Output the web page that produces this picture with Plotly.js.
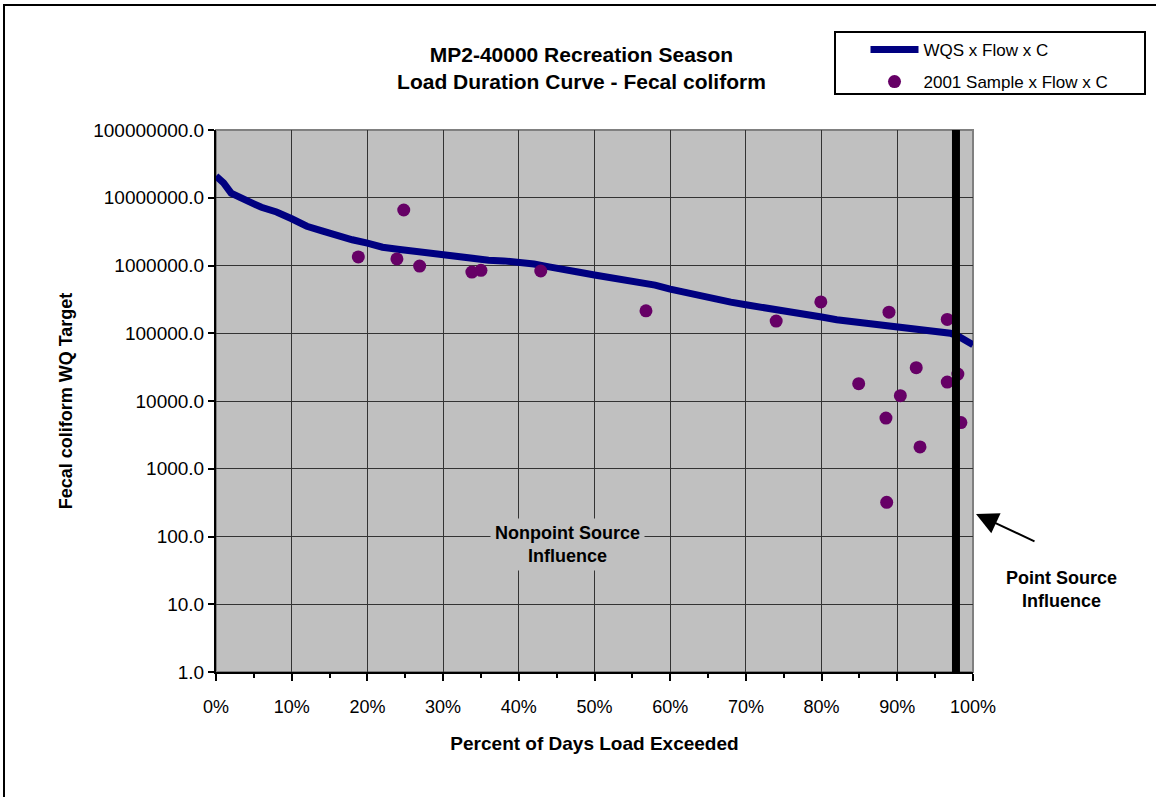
<!DOCTYPE html>
<html>
<head>
<meta charset="utf-8">
<script src="https://cdn.plot.ly/plotly-3.0.1.min.js"></script>
<style>html,body{margin:0;padding:0;background:#fff;}#chart{width:1156px;height:797px;}</style>
</head>
<body>
<div id="chart"></div>
<script>
// Load duration curve (WQS x Flow x C)
var curvePct = [0,1,2,3,4,5,6,8,10,12,14,16,18,20,22,24,26,28,30,32,34,36,38,40,42,44,46,48,50,52,54,56,58,60,62,64,66,68,70,72,74,76,78,80,82,84,86,88,90,92,94,96,97,98,99,100];
var curveLoad = [20900000,16600000,11700000,10200000,9330000,8130000,7240000,6170000,4900000,3800000,3240000,2750000,2400000,2140000,1860000,1740000,1620000,1510000,1480000,1380000,1290000,1200000,1170000,1120000,1050000,955000,891000,794000,724000,661000,617000,575000,513000,447000,398000,347000,309000,288000,263000,245000,224000,204000,191000,174000,158000,148000,138000,132000,123000,120000,112000,105000,100000,91200,79400,67600];
// 2001 samples (Sample x Flow x C)
var samplePct = [18.8,24.8,23.9,26.9,33.8,35.0,42.9,56.8,74.0,79.9,88.9,96.6,92.5,84.9,96.6,98.0,90.4,88.5,98.4,93.0,88.6];
var sampleLoad = [1340000,6600000,1250000,980000,800000,850000,830000,214000,151000,290000,205000,160000,31000,18000,19000,25000,12000,5600,4800,2100,320];
// Point source boundary
var pointSourcePct = [97.75, 97.75];
var pointSourceLoad = [1, 100000000];
// Tick labels
var xTickVals = [0,10,20,30,40,50,60,70,80,90,100];
var xTickText = ["0%","10%","20%","30%","40%","50%","60%","70%","80%","90%","100%"];
var yTickVals = [1,10,100,1000,10000,100000,1000000,10000000,100000000];
var yTickText = ["1.0","10.0","100.0","1000.0","10000.0","100000.0","1000000.0","10000000.0","100000000.0"];

var FONT = "Liberation Sans, Arial, sans-serif";

var traces = [
  {
    x: curvePct, y: curveLoad, type: "scatter", mode: "lines",
    name: "WQS x Flow x C", legendgroup: "a",
    line: {color: "#000080", width: 7}
  },
  {
    x: samplePct, y: sampleLoad, type: "scatter", mode: "markers",
    name: "2001 Sample x Flow x C", legendgroup: "b",
    marker: {color: "#660066", size: 13}
  },
  {
    x: pointSourcePct, y: pointSourceLoad, type: "scatter", mode: "lines",
    showlegend: false, hoverinfo: "skip",
    line: {color: "#000000", width: 8}
  }
];

var layout = {
  width: 1156, height: 797,
  margin: {l: 216, r: 183, t: 130, b: 125},
  paper_bgcolor: "#ffffff",
  plot_bgcolor: "#c0c0c0",
  font: {family: FONT, color: "#000", size: 18},
  title: {
    text: "<b>MP2-40000 Recreation Season<br>Load Duration Curve - Fecal coliform</b>",
    font: {family: FONT, size: 21, color: "#000"},
    x: 0.503, xanchor: "center", y: 0.922, yanchor: "top"
  },
  xaxis: {
    range: [0, 100], fixedrange: true,
    tickmode: "array", tickvals: xTickVals, ticktext: xTickText,
    ticks: "outside", ticklen: 7, tickwidth: 2, tickcolor: "#000",
    minor: {dtick: 5, ticks: "outside", ticklen: 4, tickwidth: 2, tickcolor: "#000", showgrid: false},
    showgrid: true, gridcolor: "#333333", gridwidth: 1,
    showline: true, linecolor: "#000", linewidth: 2,
    zeroline: false,
    tickfont: {family: FONT, size: 18},
    ticklabelstandoff: 10,
    title: {text: "<b>Percent of Days Load Exceeded</b>", font: {family: FONT, size: 19}, standoff: 21}
  },
  yaxis: {
    type: "log", range: [0, 8], fixedrange: true,
    tickmode: "array", tickvals: yTickVals, ticktext: yTickText,
    ticks: "outside", ticklen: 6, tickwidth: 2, tickcolor: "#000",
    showgrid: true, gridcolor: "#333333", gridwidth: 1,
    showline: true, linecolor: "#000", linewidth: 2,
    zeroline: false,
    tickfont: {family: FONT, size: 19},
    title: {text: "<b>Fecal coliform WQ Target</b>", font: {family: FONT, size: 18}, standoff: 16}
  },
  showlegend: true,
  legend: {
    x: 0.858, xanchor: "left", y: 1.181, yanchor: "top",
    bgcolor: "rgba(0,0,0,0)", borderwidth: 0,
    font: {family: FONT, size: 17, color: "#000"},
    itemwidth: 48, tracegroupgap: 7, traceorder: "grouped"
  },
  shapes: [
    // outer chart frame
    {type: "rect", xref: "paper", yref: "paper",
     x0: (4 - 216) / 757, x1: (1170 - 216) / 757, y0: (672 - 810) / 542, y1: (672 - 5) / 542,
     line: {color: "#000", width: 2}, fillcolor: "rgba(0,0,0,0)", layer: "below"},
    // plot area border (top/right grey)
    {type: "rect", xref: "paper", yref: "paper", x0: 0, x1: 1, y0: 0, y1: 1,
     line: {color: "#808080", width: 2}, fillcolor: "rgba(0,0,0,0)", layer: "below"},
    // legend box
    {type: "rect", xref: "paper", yref: "paper",
     x0: (835 - 216) / 757, x1: (1145 - 216) / 757, y0: (672 - 94) / 542, y1: (672 - 32) / 542,
     line: {color: "#000", width: 2}, fillcolor: "#ffffff", layer: "below"}
  ],
  annotations: [
    {xref: "paper", yref: "paper", x: (567 - 216) / 757, y: (672 - 544) / 542,
     text: "<b>Nonpoint Source<br>Influence</b>", showarrow: false,
     font: {family: FONT, size: 18, color: "#000"}, bgcolor: "#c0c0c0", borderpad: 4,
     xanchor: "center", yanchor: "middle"},
    {xref: "paper", yref: "paper", x: (1061 - 216) / 757, y: (672 - 589) / 542,
     text: "<b>Point Source<br>Influence</b>", showarrow: false,
     font: {family: FONT, size: 18, color: "#000"},
     xanchor: "center", yanchor: "middle"},
    {xref: "paper", yref: "paper", x: (976 - 216) / 757, y: (672 - 514) / 542,
     text: "", showarrow: true, arrowhead: 2, arrowsize: 2.2, arrowwidth: 2, arrowcolor: "#000",
     ax: 60, ay: 28, standoff: 0}
  ]
};

Plotly.newPlot("chart", traces, layout, {displayModeBar: false, staticPlot: true});
</script>
</body>
</html>
